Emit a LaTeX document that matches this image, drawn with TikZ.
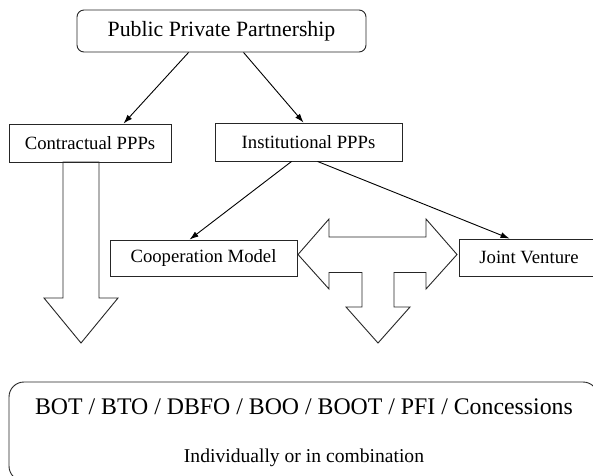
\documentclass[tikz,border=0pt]{standalone}
\usepackage{fontspec}
\setmainfont{Liberation Serif}
\usetikzlibrary{arrows.meta}
\begin{document}
\begin{tikzpicture}[x=1pt,y=-1pt,
  box/.style={draw=black!85,line width=0.9pt,inner sep=0pt,font=\fontsize{18.7}{20}\selectfont},
  conn/.style={line width=0.9pt,-{Latex[length=9pt,width=6pt]}},
  blockarrow/.style={draw=black!85,line width=0.9pt,line join=miter}]
\clip (0,0) rectangle (593,475);
\fill[white] (0,0) rectangle (593,475);
% boxes
\node[box,rounded corners=7pt,minimum width=289pt,minimum height=42pt,font=\fontsize{21.8}{24}\selectfont] (ppp) at (221.5,31) {Public Private Partnership};
\node[box,minimum width=162pt,minimum height=38pt] (contr) at (90,143) {Contractual PPPs};
\node[box,minimum width=187pt,minimum height=38pt] (inst) at (308.5,142) {Institutional PPPs};
\node[box,minimum width=187pt,minimum height=36pt] (coop) at (203.5,258) {Cooperation Model};
\node[box,minimum width=140pt,minimum height=37pt] (jv) at (529,257.5) {Joint Venture};
\node[box,rounded corners=15pt,minimum width=589pt,minimum height=99pt] (forms) at (303.5,431.5) {};
\node[anchor=base,inner sep=0pt,font=\fontsize{23.8}{26}\selectfont] (formsA) at (304,414) {BOT / BTO / DBFO / BOO / BOOT / PFI / Concessions};
\node[anchor=base,inner sep=0pt,font=\fontsize{19.6}{22}\selectfont] (formsB) at (304,462) {Individually or in combination};
% connectors
\draw[conn] ([xshift=112pt]ppp.south west) -- ([xshift=115pt]contr.north west);
\draw[conn] ([xshift=167pt]ppp.south west) -- ([xshift=89pt]inst.north west);
\draw[conn] ([xshift=77pt]inst.south west) -- ([xshift=80pt]coop.north west);
\draw[conn] ([xshift=103pt]inst.south west) -- ([xshift=51pt]jv.north west);
% block arrow below Contractual PPPs
\draw[blockarrow] (63,162) -- (63,298) -- (44,298) -- (81,343) -- (118,298) -- (99,298) -- (99,162) -- cycle;
% three-way block arrow
\draw[blockarrow] (298,254.5) -- (329,219) -- (329,237) -- (426,237) -- (426,219) -- (457,254.5)
  -- (426,289) -- (426,272.5) -- (394,272.5) -- (394,307) -- (410,307) -- (378,343)
  -- (346,307) -- (362,307) -- (362,272.5) -- (329,272.5) -- (329,289) -- cycle;
\end{tikzpicture}
\end{document}
